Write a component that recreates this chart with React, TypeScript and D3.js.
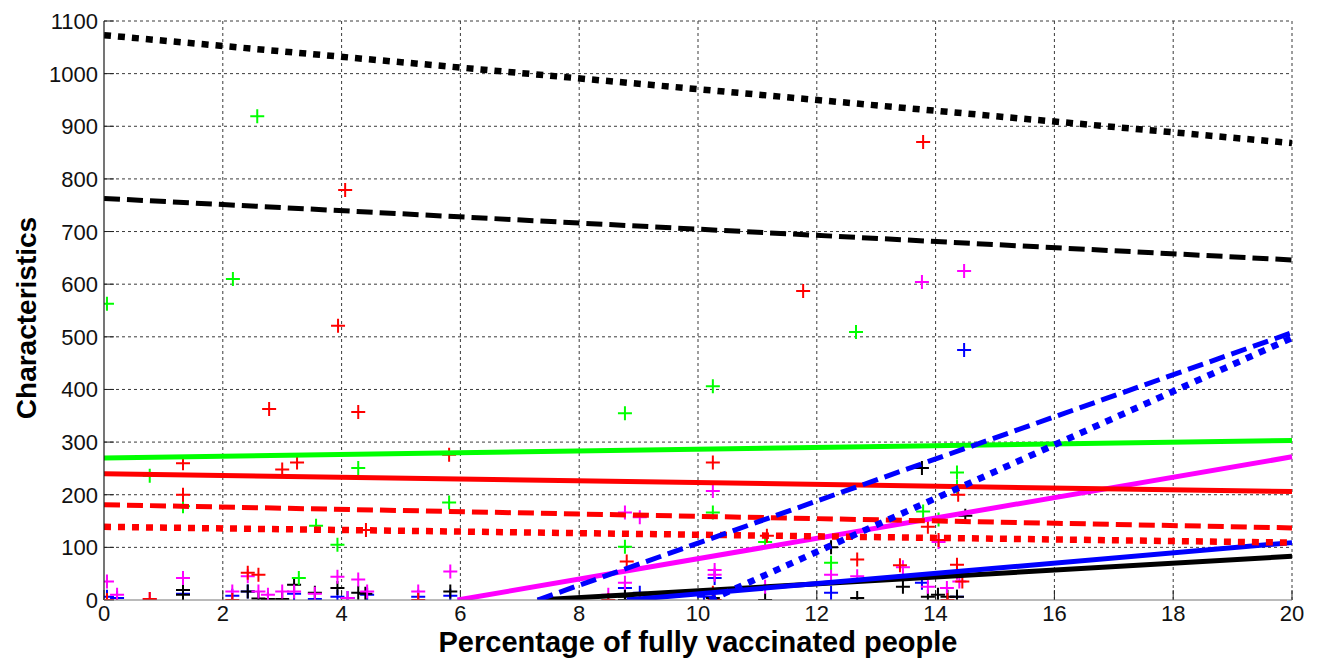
import React from "react";
import * as d3 from "d3";

// ---------- data ----------
const xTicks = [0, 2, 4, 6, 8, 10, 12, 14, 16, 18, 20];
const yTicks = [0, 100, 200, 300, 400, 500, 600, 700, 800, 900, 1000, 1100];

const redPoints: [number, number][] = [
  [0.05, 0], [0.77, 2], [1.33, 260], [1.33, 200], [2.16, 0], [2.42, 52], [2.6, 48],
  [2.78, 363], [3.0, 248], [3.25, 261], [3.94, 521], [4.06, 779], [4.28, 357], [4.41, 133],
  [5.29, 0], [5.81, 276], [8.49, 0], [8.8, 73], [9.02, 0], [10.25, 261], [10.25, 14],
  [10.28, 0], [11.16, 122], [11.77, 587], [12.68, 77], [13.4, 66], [13.79, 870],
  [13.87, 139], [14.05, 114], [14.2, 0], [14.36, 67], [14.38, 200], [14.45, 35],
];
const greenPoints: [number, number][] = [
  [0.05, 563], [0.77, 236], [1.33, 178], [2.17, 610], [2.58, 919], [3.28, 42], [3.57, 141],
  [3.93, 105], [4.28, 251], [5.81, 185], [8.77, 355], [8.77, 101], [10.25, 406], [10.25, 166],
  [11.13, 110], [12.24, 71], [12.66, 509], [13.79, 168], [14.05, 153], [14.36, 242], [14.36, 215],
];
const magentaPoints: [number, number][] = [
  [0.05, 35], [0.22, 10], [0.77, 2], [1.33, 42], [2.16, 16], [2.42, 45], [2.6, 16],
  [2.76, 10], [3.0, 16], [3.2, 16], [3.55, 12], [3.93, 44], [4.1, 4], [4.28, 39],
  [4.43, 16], [5.29, 16], [5.83, 54], [8.49, 10], [8.77, 166], [8.77, 33], [9.02, 157],
  [10.25, 207], [10.28, 57], [10.28, 48], [11.13, 25], [12.24, 48], [12.68, 45],
  [13.45, 62], [13.77, 604], [13.87, 25], [14.05, 110], [14.19, 23], [14.36, 52],
  [14.4, 35], [14.48, 625],
];
const bluePoints: [number, number][] = [
  [0.05, 6], [0.22, 4], [1.33, 12], [2.16, 8], [2.42, 16], [3.2, 12], [3.55, 2],
  [3.93, 6], [4.1, 4], [4.43, 10], [5.29, 6], [5.83, 8], [8.77, 23], [9.02, 14],
  [10.1, 6], [10.28, 42], [12.24, 14], [13.77, 33], [14.36, 6], [14.48, 475],
];
const blackPoints: [number, number][] = [
  [1.33, 19], [1.33, 10], [2.42, 16], [2.6, 3], [2.76, 2], [3.0, 2], [3.2, 29],
  [3.55, 14], [3.93, 23], [4.28, 14], [4.4, 12], [5.83, 16], [8.77, 6], [8.77, 0],
  [10.25, 4], [11.13, 0], [12.24, 100], [12.68, 4], [13.45, 25], [13.77, 251],
  [13.87, 6], [14.04, 10], [14.2, 6], [14.36, 6], [14.5, 160],
];

// fitted trend lines (start and end points)
const blackDottedFit: [number, number][] = [[0, 1073], [20, 868]];
const blackDashedFit: [number, number][] = [[0, 763], [20, 646]];
const greenSolidFit: [number, number][] = [[0, 270], [20, 303]];
const redSolidFit: [number, number][] = [[0, 240], [20, 206]];
const redDashedFit: [number, number][] = [[0, 181], [20, 137]];
const redDottedFit: [number, number][] = [[0, 139], [20, 109]];
const magentaSolidFit: [number, number][] = [[5.95, 0], [20, 272]];
const blueDashedFit: [number, number][] = [[7.3, 0], [20, 508]];
const blueDottedFit: [number, number][] = [[10.2, 0], [20, 498]];
const blueSolidFit: [number, number][] = [[8.8, 0], [20, 109]];
const blackSolidFit: [number, number][] = [[7.3, 0], [20, 83]];

// ---------- layout / style ----------
const W = 1317;
const H = 660;
const M = { left: 104, right: 1292, top: 21, bottom: 600 };

const DOT = "7,7";
const DASH = "16,7";

const lineDefs = [
  { data: blackSolidFit, color: "#000000", dash: null as string | null },
  { data: blueSolidFit, color: "#0000ff", dash: null },
  { data: magentaSolidFit, color: "#ff00ff", dash: null },
  { data: redDottedFit, color: "#ff0000", dash: DOT },
  { data: redDashedFit, color: "#ff0000", dash: DASH },
  { data: redSolidFit, color: "#ff0000", dash: null },
  { data: greenSolidFit, color: "#00ff00", dash: null },
  { data: blueDashedFit, color: "#0000ff", dash: DASH },
  { data: blueDottedFit, color: "#0000ff", dash: DOT },
  { data: blackDashedFit, color: "#000000", dash: DASH },
  { data: blackDottedFit, color: "#000000", dash: DOT },
];

const pointDefs = [
  { data: bluePoints, color: "#0000ff" },
  { data: blackPoints, color: "#000000" },
  { data: magentaPoints, color: "#ff00ff" },
  { data: greenPoints, color: "#00ff00" },
  { data: redPoints, color: "#ff0000" },
];

export default function App() {
  const x = d3.scaleLinear().domain([0, 20]).range([M.left, M.right]);
  const y = d3.scaleLinear().domain([0, 1100]).range([M.bottom, M.top]);
  const line = d3
    .line<[number, number]>()
    .x((d) => x(d[0]))
    .y((d) => y(d[1]));
  const font = "'Liberation Sans', Arial, sans-serif";
  const s = 7;

  return (
    <svg
      width={W}
      height={H}
      style={{ position: "absolute", left: 0, top: 0, background: "#fff" }}
    >
      <defs>
        <clipPath id="plotClip">
          <rect x={M.left} y={M.top - 5} width={M.right - M.left + 6} height={M.bottom - M.top + 5} />
        </clipPath>
      </defs>
      <rect x={0} y={0} width={W} height={H} fill="#fff" />

      {/* grid */}
      <g stroke="#3a3a3a" strokeWidth={1} strokeDasharray="3,3">
        {xTicks.slice(1).map((t) => (
          <line key={"gx" + t} x1={x(t)} x2={x(t)} y1={M.bottom} y2={M.top} />
        ))}
        {yTicks.slice(1).map((t) => (
          <line key={"gy" + t} x1={M.left} x2={M.right} y1={y(t)} y2={y(t)} />
        ))}
      </g>

      {/* ticks (inward) */}
      <g stroke="#222" strokeWidth={1}>
        {xTicks.map((t) => (
          <line key={"tx" + t} x1={x(t)} x2={x(t)} y1={M.bottom} y2={M.bottom - 10} />
        ))}
        {yTicks.map((t) => (
          <line key={"ty" + t} x1={M.left} x2={M.left + 10} y1={y(t)} y2={y(t)} />
        ))}
      </g>

      {/* points */}
      <g clipPath="url(#plotClip)">
        {pointDefs.map((pd, i) => (
          <g key={"p" + i} stroke={pd.color} strokeWidth={2}>
            {pd.data.map((d, j) => (
              <path
                key={j}
                d={`M${x(d[0]) - s},${y(d[1])}H${x(d[0]) + s}M${x(d[0])},${y(d[1]) - s}V${y(d[1]) + s}`}
              />
            ))}
          </g>
        ))}
      </g>

      {/* trend lines */}
      <g clipPath="url(#plotClip)" fill="none">
        {lineDefs.map((ld, i) => (
          <path
            key={"l" + i}
            d={line(ld.data) || ""}
            stroke={ld.color}
            strokeWidth={ld.dash === DOT ? 6.5 : 5}
            strokeDasharray={ld.dash || undefined}
          />
        ))}
      </g>

      {/* axes */}
      <line x1={M.left} x2={M.left} y1={M.top} y2={M.bottom} stroke="#1a1a1a" strokeWidth={1.2} />
      <line x1={M.left} x2={M.right} y1={M.bottom} y2={M.bottom} stroke="#777" strokeWidth={1.2} />

      {/* tick labels */}
      <g fontFamily={font} fontSize={22} fill="#111">
        {xTicks.map((t) => (
          <text key={"lx" + t} x={x(t)} y={621} textAnchor="middle">
            {t}
          </text>
        ))}
        {yTicks.map((t) => (
          <text key={"ly" + t} x={98} y={y(t) + 8} textAnchor="end">
            {t}
          </text>
        ))}
      </g>

      {/* axis titles */}
      <text
        x={698}
        y={652}
        textAnchor="middle"
        fontFamily={font}
        fontWeight="bold"
        fontSize={29}
        fill="#000"
      >
        Percentage of fully vaccinated people
      </text>
      <text
        transform={`translate(36,${318}) rotate(-90)`}
        textAnchor="middle"
        fontFamily={font}
        fontWeight="bold"
        fontSize={28}
        fill="#000"
      >
        Characteristics
      </text>
    </svg>
  );
}
